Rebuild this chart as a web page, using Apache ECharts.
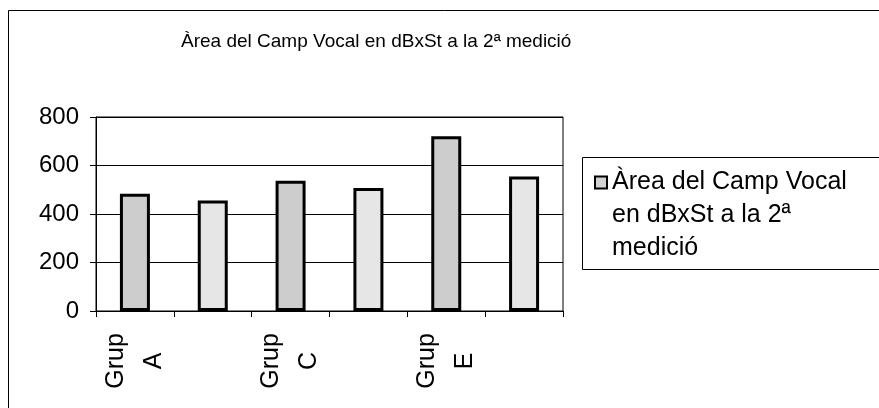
<!DOCTYPE html>
<html>
<head>
<meta charset="utf-8">
<script src="https://cdn.jsdelivr.net/npm/echarts@6/dist/echarts.min.js"></script>
<style>
  html, body { margin: 0; padding: 0; background: #fff; }
  #chart { width: 879px; height: 408px; }
</style>
</head>
<body>
<div id="chart"></div>
<script>
const titleText = 'Àrea del Camp Vocal en dBxSt a la 2ª medició';
const categories = ['Grup\nA', 'Grup\nB', 'Grup\nC', 'Grup\nD', 'Grup\nE', 'Grup\nF'];
const values = [483, 456, 537, 507, 721, 555];
const yMin = 0;
const yMax = 800;
const yStep = 200;
const legendLabel = 'Àrea del Camp Vocal\nen dBxSt a la 2ª\nmedició';

const font = 'Liberation Sans, Arial, sans-serif';
const chart = echarts.init(document.getElementById('chart'));

const option = {
  backgroundColor: '#fff',
  animation: false,
  title: {
    text: titleText,
    left: 176,
    top: 27,
    textStyle: { fontFamily: font, fontSize: 19, fontWeight: 'normal', color: '#000' }
  },
  grid: {
    left: 96, right: 316, top: 117, bottom: 97,
    show: true, borderColor: '#000', borderWidth: 1, backgroundColor: 'transparent'
  },
  legend: {
    left: 594,
    top: 100,
    padding: 0,
    itemWidth: 12,
    itemHeight: 12,
    icon: 'rect',
    itemStyle: { color: '#d2d2d2', borderColor: '#000', borderWidth: 2 },
    // two blank lines on top so the icon sits next to the first text line
    formatter: () => '\n\n' + legendLabel,
    textStyle: { fontFamily: font, fontSize: 25, lineHeight: 33, color: '#000' }
  },
  xAxis: {
    type: 'category',
    data: categories,
    axisLine: { lineStyle: { color: '#000', width: 1 } },
    axisTick: { show: true, length: 6, interval: 0, lineStyle: { color: '#000' } },
    axisLabel: {
      interval: 1,
      rotate: 90,
      align: 'center',
      verticalAlign: 'middle',
      margin: 50,
      fontFamily: font,
      fontSize: 25,
      lineHeight: 38,
      color: '#000'
    }
  },
  yAxis: {
    type: 'value',
    min: yMin,
    max: yMax,
    interval: yStep,
    axisLine: { show: true, lineStyle: { color: '#000', width: 1 } },
    axisTick: { show: true, length: 6, lineStyle: { color: '#000' } },
    splitLine: { lineStyle: { color: '#000', width: 1 } },
    axisLabel: { fontFamily: font, fontSize: 24, color: '#000', margin: 17 }
  },
  graphic: [
    {
      type: 'rect', z: -10, silent: true,
      shape: { x: 8.5, y: 10.5, width: 1000, height: 1000 },
      style: { fill: 'none', stroke: '#000', lineWidth: 1 }
    },
    {
      type: 'rect', silent: true,
      shape: { x: 582.5, y: 157.5, width: 400, height: 112 },
      style: { fill: 'none', stroke: '#000', lineWidth: 1 }
    }
  ],
  series: [
    {
      name: titleText,
      type: 'bar',
      data: values,
      barWidth: 30,
      itemStyle: {
        color: (p) => (p.dataIndex % 2 ? '#e6e6e6' : '#cdcdcd'),
        borderColor: '#000',
        borderWidth: 3
      }
    }
  ]
};

chart.setOption(option);
</script>
</body>
</html>
